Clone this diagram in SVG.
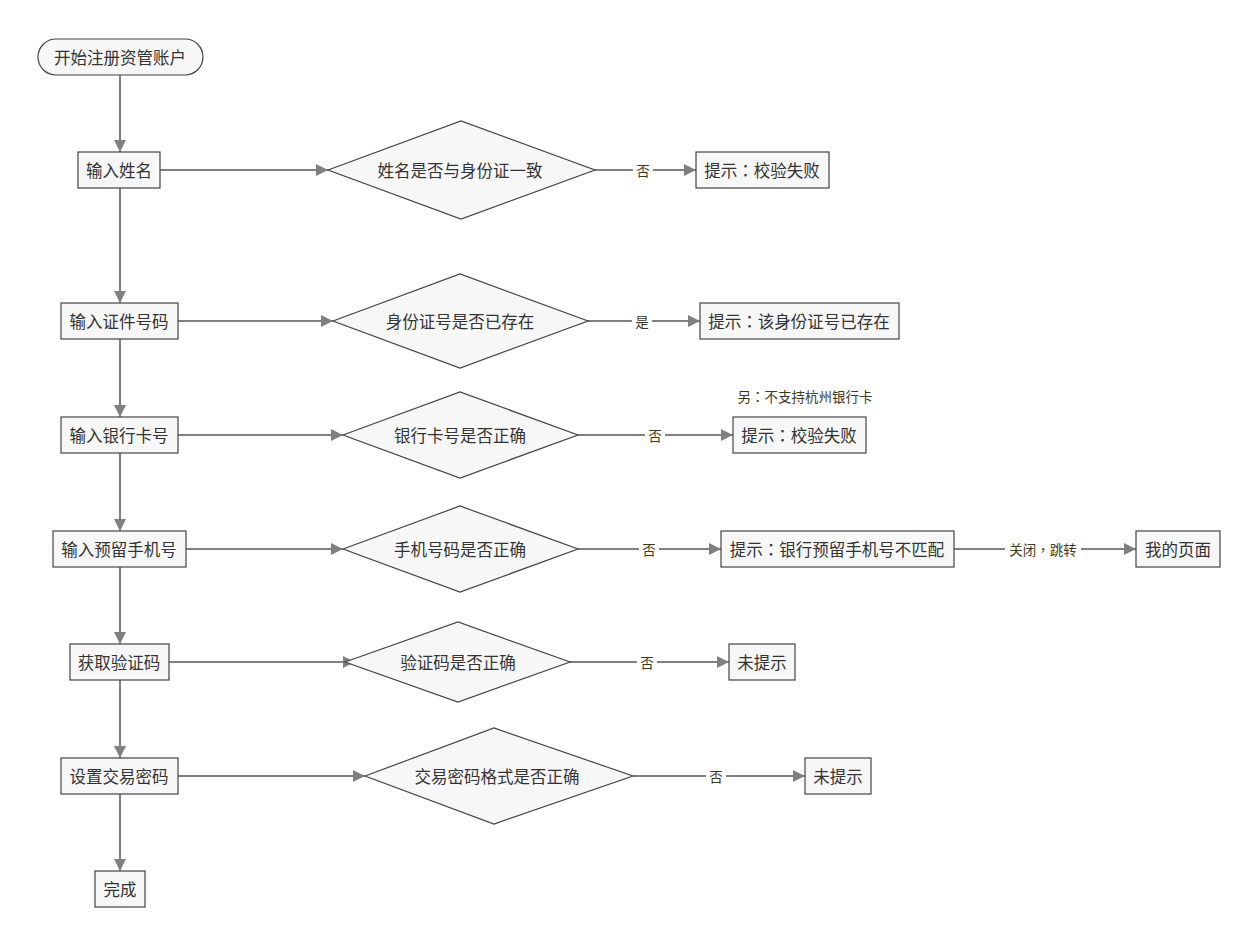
<svg xmlns="http://www.w3.org/2000/svg" width="1258" height="945" viewBox="0 0 1258 945">
<style>
.n{fill:#f7f7f7;stroke:#444;stroke-width:1.2}
.t{font-family:"Noto Sans CJK SC","Noto Sans",sans-serif;font-size:16.5px;fill:#333;text-anchor:middle;dominant-baseline:central}
.l{font-family:"Noto Sans CJK SC","Noto Sans",sans-serif;font-size:13.5px;fill:#3d3a20;text-anchor:middle;dominant-baseline:central}
.p{font-family:"Noto Sans CJK TC","Noto Sans CJK SC",sans-serif}
.c{stroke:#808080;stroke-width:2;fill:none}
.lb{fill:#fff}
</style>
<defs>
<marker id="a" viewBox="0 0 10 10" refX="10" refY="5" markerWidth="12" markerHeight="12" markerUnits="userSpaceOnUse" orient="auto">
<path d="M0,0 L10,5 L0,10 Z" fill="#808080"/>
</marker>
</defs>
<rect width="1258" height="945" fill="#fff"/>
<g id="connectors">
<path class="c" d="M120,75 V152" marker-end="url(#a)"/>
<path class="c" d="M120,188 V303" marker-end="url(#a)"/>
<path class="c" d="M120,339 V417" marker-end="url(#a)"/>
<path class="c" d="M120,453 V531" marker-end="url(#a)"/>
<path class="c" d="M120,567 V644" marker-end="url(#a)"/>
<path class="c" d="M120,680 V758" marker-end="url(#a)"/>
<path class="c" d="M120,794 V871" marker-end="url(#a)"/>
<path class="c" d="M160,170 H328" marker-end="url(#a)"/>
<path class="c" d="M178,321 H333" marker-end="url(#a)"/>
<path class="c" d="M178,435 H343" marker-end="url(#a)"/>
<path class="c" d="M186,549 H343" marker-end="url(#a)"/>
<path class="c" d="M169,662 H355" marker-end="url(#a)"/>
<path class="c" d="M178,776 H365" marker-end="url(#a)"/>
<path class="c" d="M595,170 H696" marker-end="url(#a)"/>
<path class="c" d="M588,321 H700" marker-end="url(#a)"/>
<path class="c" d="M578,435 H733" marker-end="url(#a)"/>
<path class="c" d="M578,549 H721" marker-end="url(#a)"/>
<path class="c" d="M954,549 H1136" marker-end="url(#a)"/>
<path class="c" d="M570,662 H729" marker-end="url(#a)"/>
<path class="c" d="M633,776 H805" marker-end="url(#a)"/>
<rect class="lb" x="633" y="162" width="20" height="16"/>
<text class="l" x="643" y="170">否</text>
<rect class="lb" x="632" y="313" width="20" height="16"/>
<text class="l" x="642" y="321">是</text>
<rect class="lb" x="645" y="427" width="20" height="16"/>
<text class="l" x="655" y="435">否</text>
<rect class="lb" x="639" y="541" width="20" height="16"/>
<text class="l" x="649" y="549">否</text>
<rect class="lb" x="1005" y="541" width="76" height="16"/>
<text class="l p" x="1043" y="549">关闭，跳转</text>
<rect class="lb" x="637" y="654" width="20" height="16"/>
<text class="l" x="647" y="662">否</text>
<rect class="lb" x="706" y="768" width="20" height="16"/>
<text class="l" x="716" y="776">否</text>
</g>
<g id="start"><rect class="n" x="38" y="39" width="165" height="36" rx="18"/><text class="t" x="120" y="57">开始注册资管账户</text></g>
<g id="n1"><rect class="n" x="78" y="152" width="82" height="36"/><text class="t" x="119" y="170">输入姓名</text></g>
<g id="d1"><polygon class="n" points="328,170 461,121 595,170 461,219"/><text class="t" x="460" y="170">姓名是否与身份证一致</text></g>
<g id="r1"><rect class="n" x="696" y="152" width="133" height="36"/><text class="t p" x="762" y="170">提示：校验失败</text></g>
<g id="n2"><rect class="n" x="61" y="303" width="117" height="36"/><text class="t" x="119" y="321">输入证件号码</text></g>
<g id="d2"><polygon class="n" points="333,321 460,274 588,321 460,368"/><text class="t" x="460" y="321">身份证号是否已存在</text></g>
<g id="r2"><rect class="n" x="700" y="303" width="199" height="36"/><text class="t p" x="799" y="321">提示：该身份证号已存在</text></g>
<g id="n3"><rect class="n" x="61" y="417" width="117" height="36"/><text class="t" x="119" y="435">输入银行卡号</text></g>
<g id="d3"><polygon class="n" points="343,435 460,392 578,435 460,478"/><text class="t" x="460" y="435">银行卡号是否正确</text></g>
<g id="r3"><rect class="n" x="733" y="417" width="133" height="36"/><text class="t p" x="799" y="435">提示：校验失败</text></g>
<g id="note"><text class="l p" x="805" y="396">另：不支持杭州银行卡</text></g>
<g id="n4"><rect class="n" x="53" y="531" width="133" height="36"/><text class="t" x="119" y="549">输入预留手机号</text></g>
<g id="d4"><polygon class="n" points="343,549 460,506 578,549 460,592"/><text class="t" x="460" y="549">手机号码是否正确</text></g>
<g id="r4"><rect class="n" x="721" y="531" width="233" height="36"/><text class="t p" x="837" y="549">提示：银行预留手机号不匹配</text></g>
<g id="r4b"><rect class="n" x="1136" y="531" width="84" height="36"/><text class="t" x="1178" y="549">我的页面</text></g>
<g id="n5"><rect class="n" x="70" y="644" width="99" height="36"/><text class="t" x="119" y="662">获取验证码</text></g>
<g id="d5"><polygon class="n" points="345,662 458,622 570,662 458,702"/><text class="t" x="458" y="662">验证码是否正确</text></g>
<g id="r5"><rect class="n" x="729" y="644" width="66" height="36"/><text class="t" x="762" y="662">未提示</text></g>
<g id="n6"><rect class="n" x="61" y="758" width="117" height="36"/><text class="t" x="119" y="776">设置交易密码</text></g>
<g id="d6"><polygon class="n" points="365,776 494,728 633,776 494,824"/><text class="t" x="497" y="776">交易密码格式是否正确</text></g>
<g id="r6"><rect class="n" x="805" y="758" width="66" height="36"/><text class="t" x="838" y="776">未提示</text></g>
<g id="end"><rect class="n" x="95" y="871" width="50" height="36"/><text class="t" x="120" y="889">完成</text></g>
</svg>
